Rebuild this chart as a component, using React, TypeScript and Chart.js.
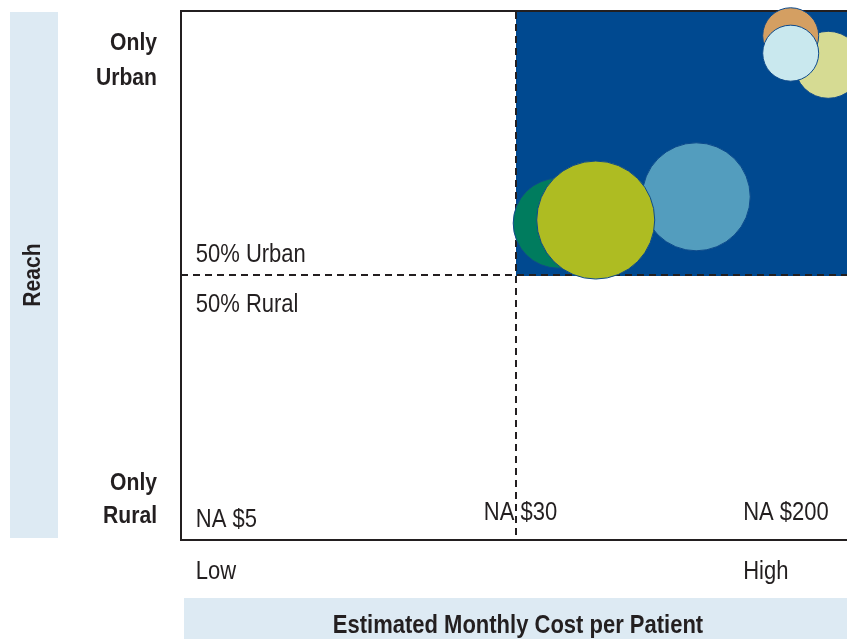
import React, { useEffect, useRef } from "react";
import { Chart, registerables } from "chart.js";

Chart.register(...registerables);

// ---- data ----
const bubbleNames = ["Option 1", "Option 2", "Option 3", "Option 4", "Option 5", "Option 6"];
const bubbleCost = [96.6, 91.0, 91.0, 76.9, 56.3, 61.9];
const bubbleReach = [90.0, 95.5, 92.2, 65.0, 60.0, 60.6];
const bubbleSize = [33.5, 28, 28, 54, 45, 59];
const bubbleColors = ["#D6DB93", "#D49F62", "#C9E8EE", "#539DBE", "#007C5E", "#AEBC22"];

const reachTopLabel = ["Only", "Urban"];
const reachBottomLabel = ["Only", "Rural"];
const midUpperLabel = "50% Urban";
const midLowerLabel = "50% Rural";
const costTickLabels = ["NA $5", "NA $30", "NA $200"];
const costTickValues = [2.2, 45.2, 83.9];
const costEndLabels = ["Low", "High"];
const yAxisTitle = "Reach";
const xAxisTitle = "Estimated Monthly Cost per Patient";

const INK = "#231f20";
const BAND = "#DDEAF3";
const QUAD = "#004990";
const BOLD = 'bold 24px "Liberation Sans", Arial, sans-serif';
const TITLE = 'bold 25px "Liberation Sans", Arial, sans-serif';
const REG = '25px "Liberation Sans", Arial, sans-serif';
const SX = 0.88;

function txt(ctx: CanvasRenderingContext2D, s: string, x: number, y: number, align: CanvasTextAlign) {
  ctx.save();
  ctx.translate(x, y);
  ctx.scale(SX, 1);
  ctx.textAlign = align;
  ctx.fillText(s, 0, 0);
  ctx.restore();
}

const decor = {
  id: "decor",
  beforeDatasetsDraw(chart: any) {
    const { ctx, chartArea: a, scales } = chart;
    const x = scales.x;
    const y = scales.y;
    ctx.save();
    // bands
    ctx.fillStyle = BAND;
    ctx.fillRect(10, a.top, 48, a.bottom - a.top - 2);
    ctx.fillRect(a.left + 3, a.bottom + 58, 851 - a.left - 3, 50);
    // quadrant
    ctx.fillStyle = QUAD;
    const qx = x.getPixelForValue(50);
    const qy = y.getPixelForValue(50);
    ctx.fillRect(qx, a.top, a.right - qx, qy - a.top);
    // frame
    ctx.strokeStyle = INK;
    ctx.lineWidth = 2;
    ctx.beginPath();
    ctx.moveTo(a.right, a.top - 1);
    ctx.lineTo(a.left, a.top - 1);
    ctx.lineTo(a.left, a.bottom);
    ctx.lineTo(a.right, a.bottom);
    ctx.stroke();
    // dashed
    ctx.lineWidth = 2;
    ctx.setLineDash([7, 5]);
    ctx.beginPath();
    ctx.moveTo(qx, a.top);
    ctx.lineTo(qx, a.bottom);
    ctx.moveTo(a.left, qy - 1);
    ctx.lineTo(a.right, qy - 1);
    ctx.stroke();
    ctx.restore();
  },
  afterDatasetsDraw(chart: any) {
    const { ctx, chartArea: a, scales } = chart;
    const x = scales.x;
    const y = scales.y;
    ctx.save();
    ctx.fillStyle = INK;
    ctx.textBaseline = "alphabetic";
    // left labels
    ctx.font = BOLD;
    txt(ctx, reachTopLabel[0], a.left - 24, a.top + 38, "right");
    txt(ctx, reachTopLabel[1], a.left - 24, a.top + 73, "right");
    txt(ctx, reachBottomLabel[0], a.left - 24, a.bottom - 50, "right");
    txt(ctx, reachBottomLabel[1], a.left - 24, a.bottom - 17, "right");
    // y title
    ctx.save();
    ctx.translate(33, y.getPixelForValue(50.2));
    ctx.rotate(-Math.PI / 2);
    ctx.scale(SX, 1);
    ctx.textAlign = "center";
    ctx.textBaseline = "middle";
    ctx.fillText(yAxisTitle, 0, 0);
    ctx.restore();
    // x title
    ctx.font = TITLE;
    txt(ctx, xAxisTitle, 518, a.bottom + 93, "center");
    // inner labels
    ctx.font = REG;
    txt(ctx, midUpperLabel, x.getPixelForValue(2.2), y.getPixelForValue(50) - 14, "left");
    txt(ctx, midLowerLabel, x.getPixelForValue(2.2), y.getPixelForValue(50) + 36, "left");
    costTickLabels.forEach((t, i) => {
      txt(ctx, t, x.getPixelForValue(costTickValues[i]), a.bottom - (i === 0 ? 13 : 20), "left");
    });
    txt(ctx, costEndLabels[0], x.getPixelForValue(costTickValues[0]), a.bottom + 39, "left");
    txt(ctx, costEndLabels[1], x.getPixelForValue(costTickValues[2]), a.bottom + 39, "left");
    ctx.restore();
  },
};

export default function App() {
  const ref = useRef<HTMLCanvasElement>(null);
  useEffect(() => {
    if (!ref.current) return;
    const chart = new Chart(ref.current, {
      type: "bubble",
      data: {
        datasets: [
          {
            label: "Options",
            data: bubbleNames.map((_, i) => ({ x: bubbleCost[i], y: bubbleReach[i], r: bubbleSize[i] })),
            backgroundColor: bubbleColors,
            borderColor: "#0d4a8c",
            borderWidth: 1,
            clip: false as any,
          },
        ],
      },
      options: {
        animation: false,
        responsive: false,
        layout: { autoPadding: false, padding: { left: 181, top: 12, right: 0, bottom: 99 } } as any,
        plugins: { legend: { display: false }, tooltip: { enabled: false }, title: { display: false } },
        scales: {
          x: { type: "linear", min: 0, max: 100, display: false },
          y: { type: "linear", min: 0, max: 100, display: false },
        },
      },
      plugins: [decor],
    });
    return () => chart.destroy();
  }, []);
  return (
    <div style={{ position: "fixed", left: 0, top: 0, width: 847, height: 639, overflow: "hidden", background: "#fff" }}>
      <canvas ref={ref} width={851} height={639} style={{ display: "block" }} />
    </div>
  );
}
